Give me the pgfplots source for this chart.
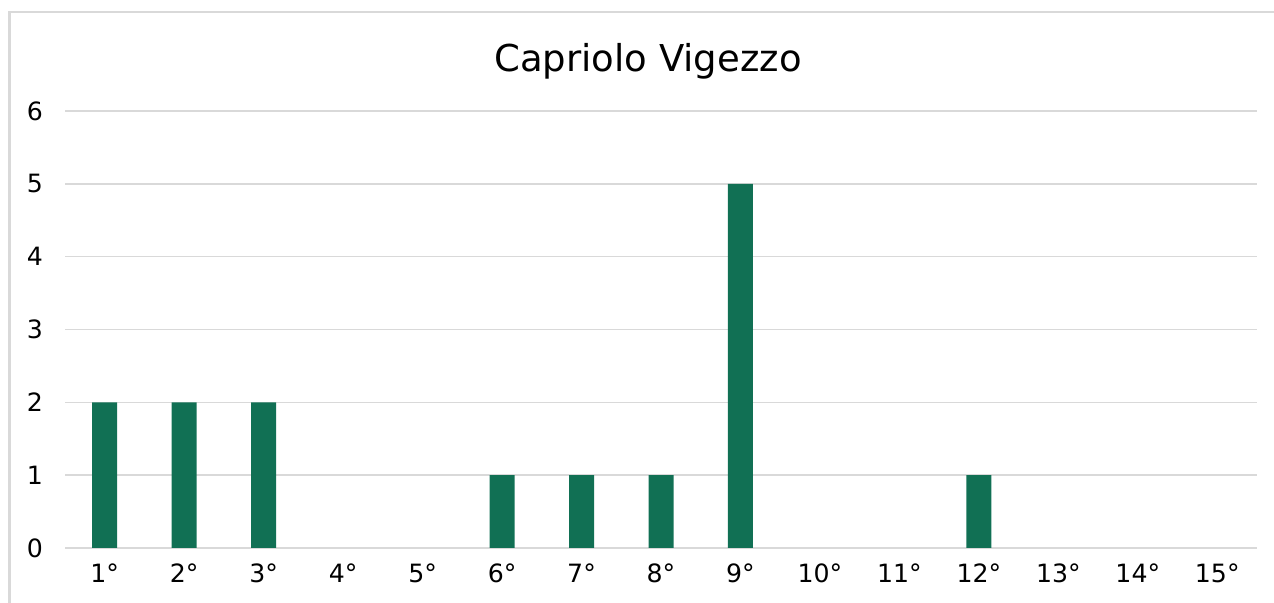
\documentclass[border=0pt]{standalone}
\usepackage{pgfplots}
\pgfplotsset{compat=1.18}
\usepackage{fontspec}
\setmainfont{DejaVu Sans}
\definecolor{barc}{HTML}{117054}
\definecolor{gridc}{HTML}{D9D9D9}
\begin{document}
\begin{tikzpicture}
\useasboundingbox (0,0) rectangle (637pt,301.5pt);
\draw[gridc, line width=1.2pt] (4.75pt,0) -- (4.75pt,295.5pt) -- (637pt,295.5pt);
\node[font=\fontsize{18.5}{20}\selectfont, anchor=center] at (324pt,271pt) {Capriolo Vigezzo};
\begin{axis}[
  at={(32.5pt,27.5pt)}, anchor=south west,
  scale only axis, width=596pt, height=218.5pt,
  xmin=0.5, xmax=15.5, ymin=0, ymax=6,
  ybar, bar width=12.5pt,
  axis line style={draw=none},
  axis x line*=bottom,
  x axis line style={draw=gridc, line width=0.8pt},
  xtick={1,...,15},
  xticklabels={1°,2°,3°,4°,5°,6°,7°,8°,9°,10°,11°,12°,13°,14°,15°},
  ytick={0,...,6},
  major tick length=0pt,
  ymajorgrids, grid style={gridc, line width=0.8pt},
  tick label style={font=\fontsize{12.6}{14}\selectfont},
  /pgf/number format/assume math mode=true,
  yticklabel style={xshift=-7.5pt},
  xticklabel style={yshift=-4.5pt},
]
% categories with value 0 (4,5,10,11,13,14,15) draw no bar
\addplot[fill=barc, draw=none] coordinates {
(1,2) (2,2) (3,2) (6,1) (7,1) (8,1) (9,5) (12,1)
};
\end{axis}
\end{tikzpicture}
\end{document}
